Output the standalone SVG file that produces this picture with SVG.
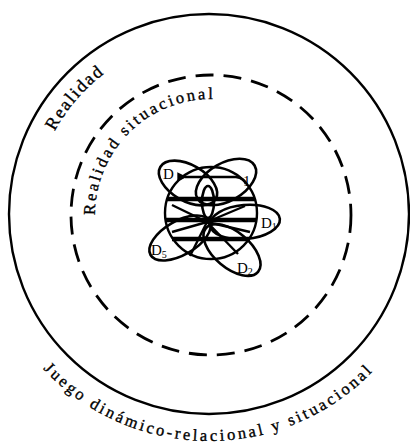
<svg xmlns="http://www.w3.org/2000/svg" width="410" height="444" viewBox="0 0 410 444">
<style>
.ln{fill:none;stroke:#000;stroke-width:2.4}
.dash{fill:none;stroke:#000;stroke-width:2.8;stroke-dasharray:18 10}
.bar{stroke:#000;stroke-width:4.5;stroke-linecap:butt}
.pet{fill:none;stroke:#000;stroke-width:2.6}
.tx{font-family:"Liberation Serif","Times New Roman",serif;fill:#000;stroke:#000;stroke-width:0.35}
.lab{font-family:"Liberation Serif","Times New Roman",serif;font-size:15px;fill:#000}
</style>
<defs>
<path id="pOuter" d="M44.55,154.15 A175,175 0 0 1 178.61,41.66"/>
<path id="pInner" d="M95.44,225.11 A116,116 0 0 1 231.14,100.76"/>
<path id="pBottom" d="M35.11,359.91 A227,227 0 0 0 394.95,344.20"/>
<marker id="ah" viewBox="0 0 10 10" refX="2" refY="5" markerWidth="4" markerHeight="4" orient="auto-start-reverse"><path d="M0,5 L10,0 L10,10 Z" fill="#000"/></marker>
</defs>
<rect width="410" height="444" fill="#fff"/>
<g id="realidad">
<circle class="ln" cx="209" cy="214" r="200"/>
<text class="tx" font-size="18"><textPath href="#pOuter" startOffset="25" textLength="76" lengthAdjust="spacing">Realidad</textPath></text>
</g>
<g id="realidad-situacional">
<circle class="dash" cx="211" cy="215" r="140"/>
<text class="tx" font-size="16.5"><textPath href="#pInner" startOffset="10" textLength="184" lengthAdjust="spacing">Realidad situacional</textPath></text>
</g>
<g id="juego">
<text class="tx" font-size="16.5"><textPath href="#pBottom" startOffset="12" textLength="368" lengthAdjust="spacing">Juego dinámico-relacional y situacional</textPath></text>
</g>
<g id="nucleo">
<circle class="ln" cx="211" cy="213" r="46" stroke-width="2.8"/>
<ellipse class="pet" cx="208" cy="202" rx="6" ry="16"/>
</g>
<g id="D-top-left">
<ellipse class="pet" cx="188" cy="183" rx="32" ry="18" transform="rotate(30 188 183)"/>
<text class="lab" x="163" y="179">D</text>
</g>
<g id="D-top-right">
<ellipse class="pet" cx="226" cy="182" rx="33" ry="19" transform="rotate(-30 226 182)"/>
<text class="lab" x="243" y="186" font-size="11">1</text>
</g>
<g id="D1">
<ellipse class="pet" cx="245" cy="222" rx="35" ry="17" transform="rotate(-5 245 222)"/>
<text class="lab" x="261" y="228">D<tspan font-size="10" dy="2">1</tspan></text>
</g>
<g id="D2">
<ellipse class="pet" cx="232" cy="250" rx="34" ry="18" transform="rotate(40 232 250)"/>
<text class="lab" x="237" y="273">D<tspan font-size="10" dy="2">2</tspan></text>
</g>
<g id="D5">
<ellipse class="pet" cx="180" cy="238" rx="34" ry="17" transform="rotate(-30 180 238)"/>
<text class="lab" x="151" y="255">D<tspan font-size="10" dy="3">5</tspan></text>
</g>
<g id="connectors">
<path class="ln" d="M185,177 L236,177 Q244,178 246,184" stroke-width="3.2" marker-start="url(#ah)"/>
<line class="bar" x1="167" y1="199" x2="255" y2="199"/>
<line class="bar" x1="166" y1="220" x2="256" y2="220"/>
<line class="bar" x1="172" y1="239" x2="250" y2="239"/>
<g class="ln" stroke-width="2">
<line x1="207" y1="222" x2="172" y2="205"/>
<line x1="207" y1="222" x2="245" y2="206"/>
<line x1="207" y1="222" x2="250" y2="232"/>
<line x1="207" y1="222" x2="172" y2="232"/>
<line x1="207" y1="222" x2="190" y2="256"/>
<line x1="207" y1="222" x2="238" y2="254"/>
</g>
</g>
</svg>
